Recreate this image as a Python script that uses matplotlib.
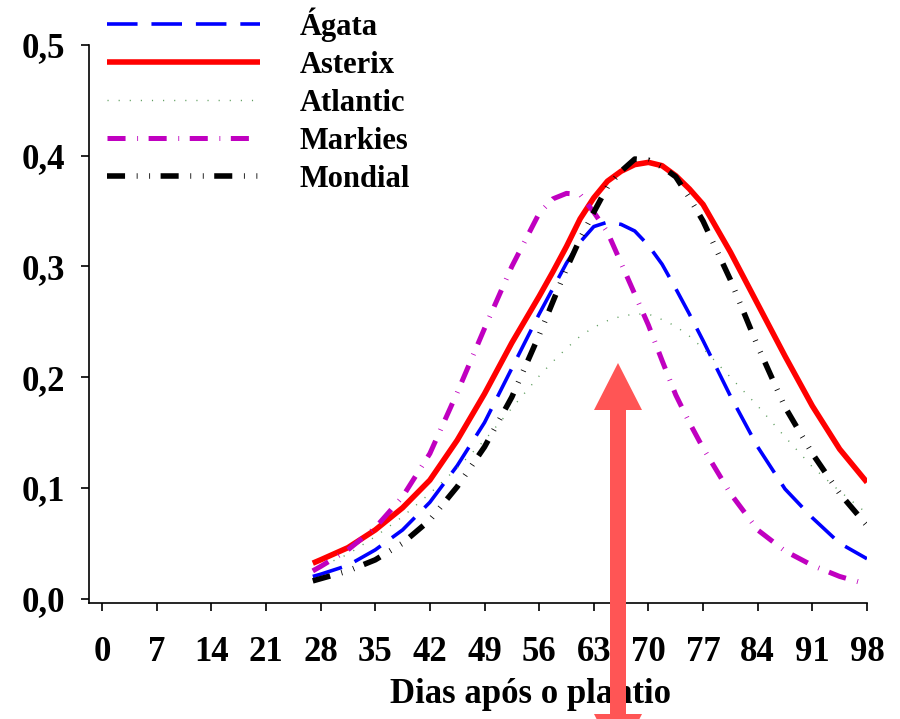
import matplotlib
matplotlib.use("Agg")
import matplotlib.pyplot as plt
from matplotlib.patches import FancyArrow

plt.rcParams['font.family'] = ['Liberation Serif', 'DejaVu Serif']
plt.rcParams['font.weight'] = 'bold'
plt.rcParams['lines.scale_dashes'] = False

# days after planting
dias = [27, 28, 31.5, 35, 38.5, 42, 45.5, 49, 52.5, 56, 57.75, 59.5, 61.25, 63, 64.75,
        66.5, 68.25, 70, 71.75, 73.5, 75.25, 77, 80.5, 84, 87.5, 91, 94.5, 98]

agata = [0.020, 0.022, 0.030, 0.044, 0.062, 0.087, 0.120, 0.159, 0.208, 0.257, 0.280,
         0.303, 0.322, 0.336, 0.340, 0.338, 0.332, 0.319, 0.302, 0.280, 0.257, 0.233,
         0.183, 0.137, 0.099, 0.073, 0.050, 0.036]
asterix = [0.032, 0.035, 0.046, 0.062, 0.082, 0.107, 0.143, 0.185, 0.231, 0.273, 0.295,
           0.318, 0.343, 0.362, 0.377, 0.386, 0.392, 0.394, 0.391, 0.382, 0.370, 0.356,
           0.313, 0.266, 0.219, 0.174, 0.135, 0.105]
atlantic = [0.027, 0.029, 0.040, 0.056, 0.074, 0.095, 0.118, 0.143, 0.172, 0.201, 0.214,
            0.226, 0.237, 0.245, 0.251, 0.255, 0.257, 0.257, 0.252, 0.246, 0.237, 0.226,
            0.200, 0.174, 0.146, 0.119, 0.097, 0.077]
markies = [0.025, 0.029, 0.044, 0.064, 0.092, 0.131, 0.186, 0.244, 0.300, 0.348, 0.361,
           0.366, 0.365, 0.349, 0.331, 0.303, 0.275, 0.247, 0.215, 0.184, 0.159, 0.136,
           0.095, 0.062, 0.043, 0.030, 0.020, 0.013]
mondial = [0.016, 0.018, 0.025, 0.035, 0.050, 0.071, 0.101, 0.137, 0.182, 0.238, 0.268,
           0.298, 0.325, 0.349, 0.372, 0.386, 0.397, 0.396, 0.390, 0.381, 0.362, 0.341,
           0.288, 0.228, 0.173, 0.131, 0.095, 0.066]

xticks = list(range(0, 99, 7))
yticks = [0.0, 0.1, 0.2, 0.3, 0.4, 0.5]
ylabels = ['0,0', '0,1', '0,2', '0,3', '0,4', '0,5']

fig = plt.figure(figsize=(9, 7.19), dpi=100)
ax = fig.add_axes([0.0989, 0.1613, 0.8644, 0.7761])

l1, = ax.plot(dias, agata, color='#0000ff', lw=2.6, ls=(0, (22, 10)), label='Ágata')
l2, = ax.plot(dias, asterix, color='#ff0000', lw=4, label='Asterix')
l3, = ax.plot(dias, atlantic, color='#5f9e5f', lw=1, ls=(0, (0.8, 7.2)), label='Atlantic')
l4, = ax.plot(dias, markies, color='#c000c0', lw=3.6, ls=(0, (13, 8.4, 0.6, 7.6)),
              label='Markies')
l5, = ax.plot(dias, mondial, color='black', lw=4, ls=(0, (13, 8.4, 0.6, 8.4, 0.6, 7.6)),
              label='Mondial')
for ln in (l1, l2, l3, l4, l5):
    ln.set_dash_capstyle('butt')
    ln.set_solid_capstyle('butt')
    ln.set_solid_joinstyle('round')
    ln.set_dash_joinstyle('round')

ax.set_xlim(-1.67, 98)
ax.set_ylim(-0.004, 0.5)
ax.set_xticks(xticks)
ax.set_yticks(yticks)
ax.set_yticklabels(ylabels)
ax.spines['top'].set_visible(False)
ax.spines['right'].set_visible(False)
for s in ('left', 'bottom'):
    ax.spines[s].set_linewidth(1.2)
ax.tick_params(axis='both', direction='out', length=6, width=1.2, labelsize=25)
ax.tick_params(axis='x', pad=18)
ax.tick_params(axis='y', pad=11)

ax.set_xlabel('Dias após o plantio', fontsize=25, fontweight='bold')
ax.xaxis.set_label_coords(0.567, -0.135)

ax.legend(loc='upper left', bbox_to_anchor=(107 / 900, 1 - 7 / 719),
          bbox_transform=fig.transFigure, frameon=False, fontsize=22,
          handlelength=5.0, handletextpad=1.3, labelspacing=0.3,
          borderpad=0, borderaxespad=0)

# red double arrow (in inches)
cx = 6.18
kw = dict(width=0.16, head_width=0.48, head_length=0.47, length_includes_head=True,
          color='#ff5555', transform=fig.dpi_scale_trans, clip_on=False, zorder=10, lw=0)
fig.patches.append(FancyArrow(cx, 1.6, 0, 3.56 - 1.6, **kw))
fig.patches.append(FancyArrow(cx, 1.6, 0, -0.42 - 1.6, **kw))

fig.savefig('out.png', dpi=100)
